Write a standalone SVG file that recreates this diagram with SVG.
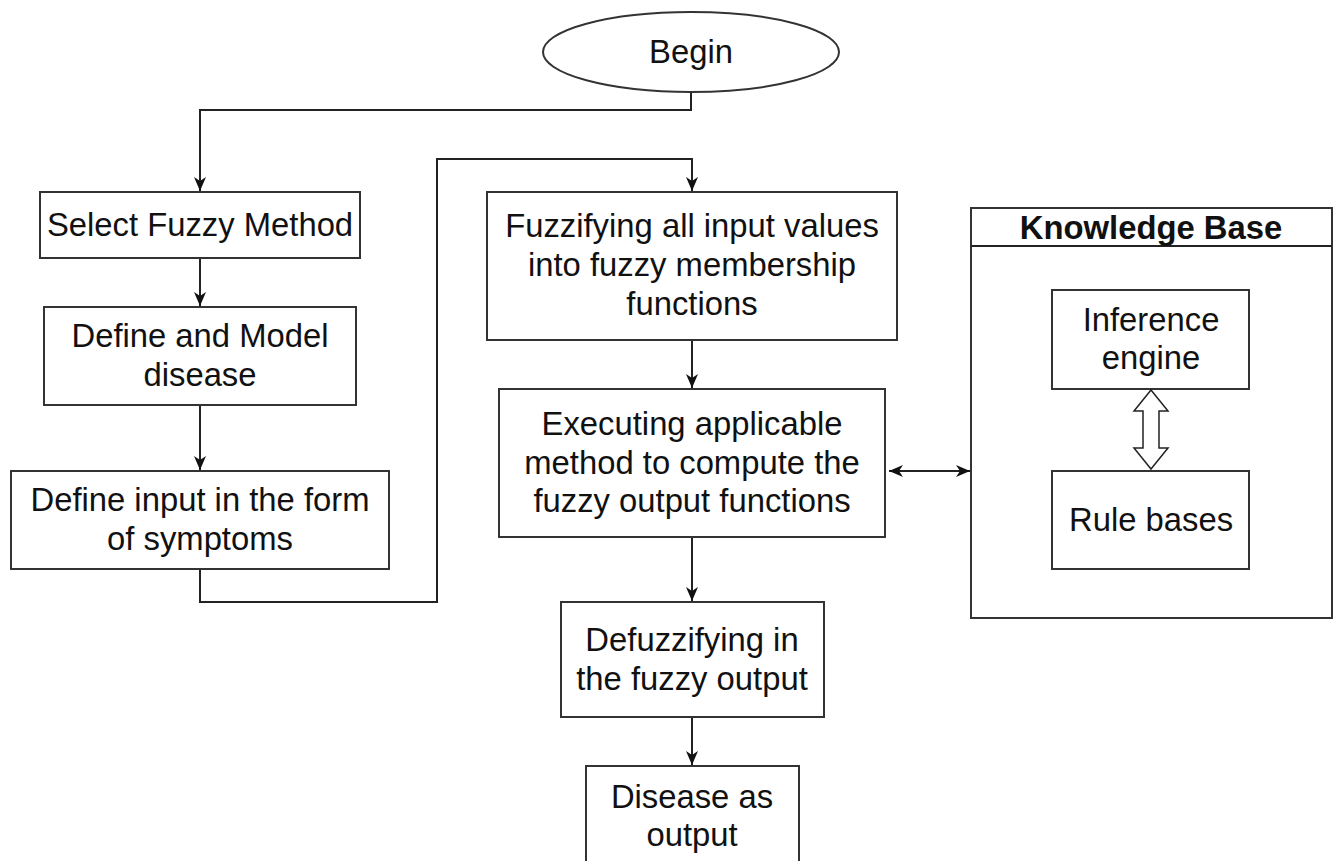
<svg xmlns="http://www.w3.org/2000/svg" width="1339" height="861" viewBox="0 0 1339 861">
<style>
.box{fill:#fff;stroke:#333;stroke-width:2}
.t{font-family:"Liberation Sans",Arial,sans-serif;font-size:32.8px;fill:#111;text-anchor:middle}
.b{font-weight:bold}
.c{fill:none;stroke:#222;stroke-width:2}
</style>
<defs>
<marker id="ah" viewBox="0 0 14 14" refX="14" refY="7" markerWidth="14" markerHeight="14" markerUnits="userSpaceOnUse" orient="auto-start-reverse">
<path d="M0,1 L14,7 L0,13 L4,7 Z" fill="#111"/>
</marker>
</defs>
<rect width="1339" height="861" fill="#fff"/>
<g id="connectors">
<path class="c" d="M691,92 V110 H200 V191" marker-end="url(#ah)"/>
<path class="c" d="M200,258 V306" marker-end="url(#ah)"/>
<path class="c" d="M200,405 V470" marker-end="url(#ah)"/>
<path class="c" d="M200,569 V602 H437 V159 H692 V191" marker-end="url(#ah)"/>
<path class="c" d="M692,340 V388" marker-end="url(#ah)"/>
<path class="c" d="M692,537 V601" marker-end="url(#ah)"/>
<path class="c" d="M692,717 V765" marker-end="url(#ah)"/>
<path class="c" d="M889,471 H970" marker-start="url(#ah)" marker-end="url(#ah)"/>
</g>
<g id="begin">
<ellipse class="box" cx="691" cy="52" rx="148" ry="40"/>
<text class="t" x="691" y="63">Begin</text>
</g>
<g id="select">
<rect class="box" x="40" y="192" width="320" height="66"/>
<text class="t" x="200" y="236">Select Fuzzy Method</text>
</g>
<g id="define-model">
<rect class="box" x="44" y="307" width="312" height="98"/>
<text class="t" x="200" y="347">Define and Model</text>
<text class="t" x="200" y="386">disease</text>
</g>
<g id="define-input">
<rect class="box" x="11" y="471" width="378" height="98"/>
<text class="t" x="200" y="511">Define input in the form</text>
<text class="t" x="200" y="550">of symptoms</text>
</g>
<g id="fuzzify">
<rect class="box" x="487" y="192" width="410" height="148"/>
<text class="t" x="692" y="237">Fuzzifying all input values</text>
<text class="t" x="692" y="276">into fuzzy membership</text>
<text class="t" x="692" y="315">functions</text>
</g>
<g id="execute">
<rect class="box" x="499" y="389" width="386" height="148"/>
<text class="t" x="692" y="435">Executing applicable</text>
<text class="t" x="692" y="474">method to compute the</text>
<text class="t" x="692" y="512">fuzzy output functions</text>
</g>
<g id="defuzzify">
<rect class="box" x="561" y="602" width="263" height="115"/>
<text class="t" x="692" y="651">Defuzzifying in</text>
<text class="t" x="692" y="690">the fuzzy output</text>
</g>
<g id="disease-output">
<rect class="box" x="586" y="766" width="213" height="120"/>
<text class="t" x="692" y="808">Disease as</text>
<text class="t" x="692" y="846">output</text>
</g>
<g id="knowledge-base">
<rect class="box" x="971" y="208" width="361" height="410"/>
<line class="c" x1="971" y1="246" x2="1332" y2="246"/>
<text class="t b" x="1151" y="239">Knowledge Base</text>
</g>
<g id="inference">
<rect class="box" x="1052" y="290" width="197" height="99"/>
<text class="t" x="1151" y="331">Inference</text>
<text class="t" x="1151" y="369">engine</text>
</g>
<g id="rules">
<rect class="box" x="1052" y="471" width="197" height="98"/>
<text class="t" x="1151" y="531">Rule bases</text>
</g>
<g id="block-arrow">
<path d="M1151,390 L1168,411 L1159,411 L1159,448 L1168,448 L1151,469 L1134,448 L1143,448 L1143,411 L1134,411 Z" fill="#fff" stroke="#222" stroke-width="1.5"/>
</g>
</svg>
